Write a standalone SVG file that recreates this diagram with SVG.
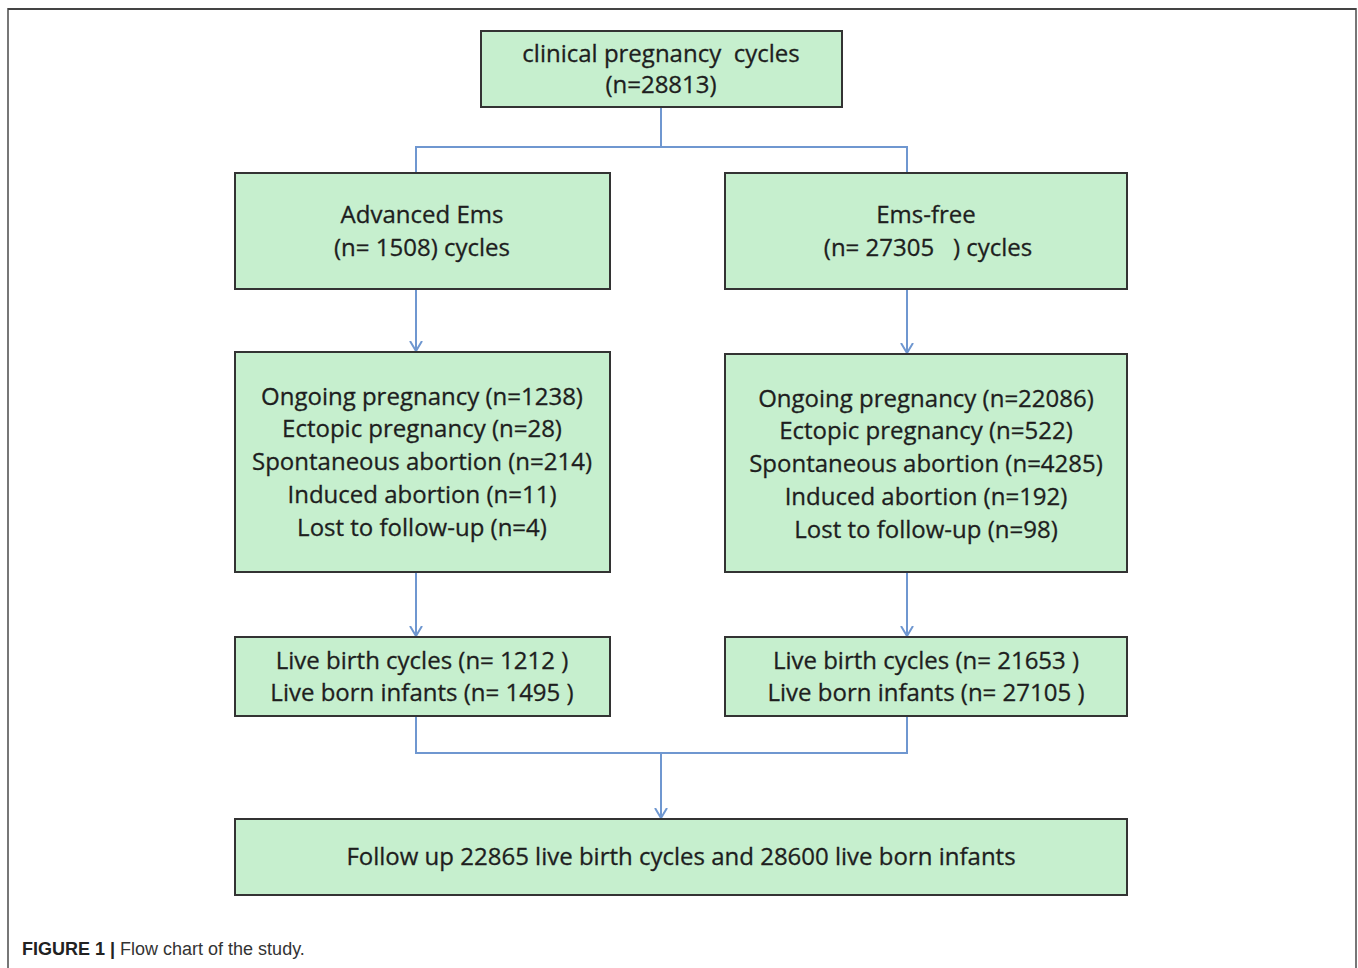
<svg xmlns="http://www.w3.org/2000/svg" width="1358" height="968" viewBox="0 0 1358 968">
<style>
.box{fill:#c6efce;stroke:#333;stroke-width:2}
.t{font-family:"Open Sans","Noto Sans",sans-serif;font-size:24px;fill:#1e1e1e;text-anchor:middle;stroke:#1e1e1e;stroke-width:0.3}
.c{fill:none;stroke:#6f97d0;stroke-width:2}
.cap{font-family:"Liberation Sans",Arial,sans-serif;font-size:18px;fill:#333}
</style>
<defs>
<marker id="ah" viewBox="0 0 11 14" refX="10" refY="7" markerWidth="11" markerHeight="14" markerUnits="userSpaceOnUse" orient="auto">
<path d="M0,1 L10,7 L0,13" fill="none" stroke="#6f97d0" stroke-width="2"/>
</marker>
</defs>
<rect x="0" y="0" width="1358" height="968" fill="#fff"/>
<path d="M8,968 V9 H1356 V968" fill="none" stroke="#777" stroke-width="2"/>
<path d="M8,9 H1356" stroke="#444" stroke-width="2"/>
<g id="connectors">
<path class="c" d="M661,107 V147 M416,173 V147 H907 V173"/>
<path class="c" d="M416,289 V351" marker-end="url(#ah)"/>
<path class="c" d="M907,289 V353" marker-end="url(#ah)"/>
<path class="c" d="M416,572 V636" marker-end="url(#ah)"/>
<path class="c" d="M907,572 V636" marker-end="url(#ah)"/>
<path class="c" d="M416,716 V753 H907 V716"/>
<path class="c" d="M661,753 V818" marker-end="url(#ah)"/>
</g>
<g id="n_top">
<rect class="box" x="481" y="31" width="361" height="76"/>
<text class="t" x="661" y="62" xml:space="preserve">clinical pregnancy  cycles</text>
<text class="t" x="661" y="93">(n=28813)</text>
</g>
<g id="n_adv">
<rect class="box" x="235" y="173" width="375" height="116"/>
<text class="t" x="422" y="223">Advanced Ems</text>
<text class="t" x="422" y="256">(n= 1508) cycles</text>
</g>
<g id="n_free">
<rect class="box" x="725" y="173" width="402" height="116"/>
<text class="t" x="926" y="223">Ems-free</text>
<text class="t" x="928" y="256" xml:space="preserve">(n= 27305   ) cycles</text>
</g>
<g id="n_adv_out">
<rect class="box" x="235" y="352" width="375" height="220"/>
<text class="t" x="422" y="405">Ongoing pregnancy (n=1238)</text>
<text class="t" x="422" y="437">Ectopic pregnancy (n=28)</text>
<text class="t" x="422" y="470">Spontaneous abortion (n=214)</text>
<text class="t" x="422" y="503">Induced abortion (n=11)</text>
<text class="t" x="422" y="536">Lost to follow-up (n=4)</text>
</g>
<g id="n_free_out">
<rect class="box" x="725" y="354" width="402" height="218"/>
<text class="t" x="926" y="407">Ongoing pregnancy (n=22086)</text>
<text class="t" x="926" y="439">Ectopic pregnancy (n=522)</text>
<text class="t" x="926" y="472">Spontaneous abortion (n=4285)</text>
<text class="t" x="926" y="505">Induced abortion (n=192)</text>
<text class="t" x="926" y="538">Lost to follow-up (n=98)</text>
</g>
<g id="n_adv_live">
<rect class="box" x="235" y="637" width="375" height="79"/>
<text class="t" x="422" y="669">Live birth cycles (n= 1212 )</text>
<text class="t" x="422" y="701">Live born infants (n= 1495 )</text>
</g>
<g id="n_free_live">
<rect class="box" x="725" y="637" width="402" height="79"/>
<text class="t" x="926" y="669">Live birth cycles (n= 21653 )</text>
<text class="t" x="926" y="701">Live born infants (n= 27105 )</text>
</g>
<g id="n_bottom">
<rect class="box" x="235" y="819" width="892" height="76"/>
<text class="t" x="681" y="865">Follow up 22865 live birth cycles and 28600 live born infants</text>
</g>
<text class="cap" x="22" y="955"><tspan font-weight="bold" fill="#222">FIGURE 1 |</tspan> Flow chart of the study.</text>
</svg>
